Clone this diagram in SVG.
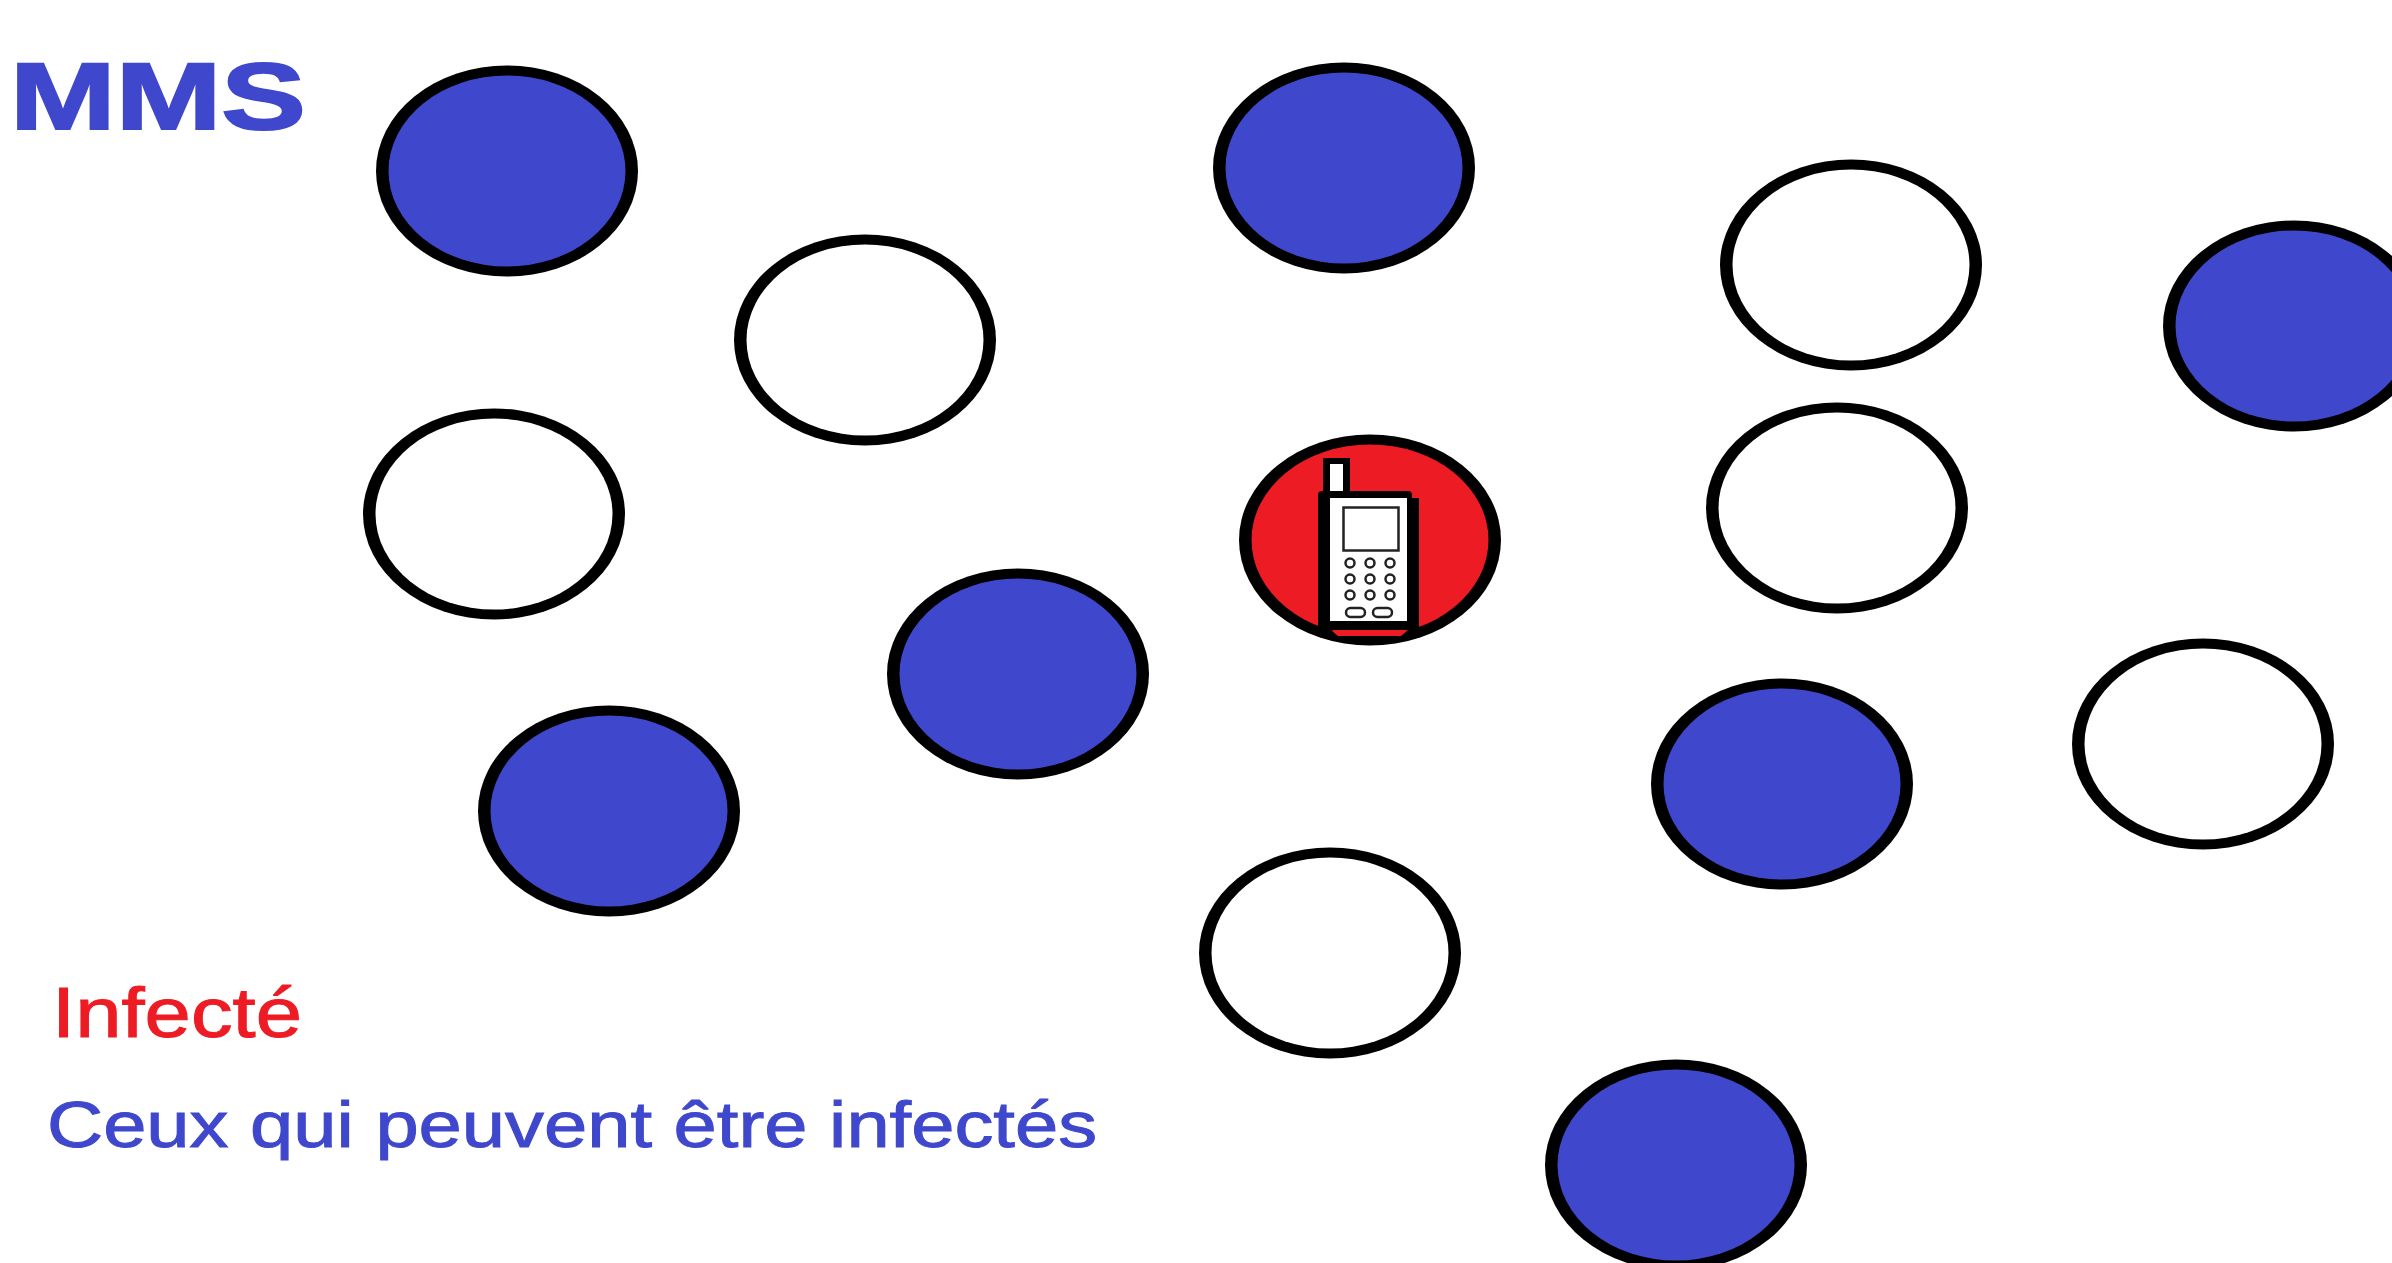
<svg xmlns="http://www.w3.org/2000/svg" width="2392" height="1263" viewBox="0 0 2392 1263">
<style>
.o{fill:#000}
.b{fill:#3F48CC}
.w{fill:#fff}
.r{fill:#ED1C24}
.t{font-family:"Liberation Sans",Arial,sans-serif}
.k{fill:#fff;stroke:#222;stroke-width:2.500}
</style>
<defs>
<ellipse id="eo" class="o" rx="131" ry="105.500"/>
<ellipse id="ei" rx="118.500" ry="95.500"/>
</defs>
<rect width="2392" height="1263" fill="#fff"/>
<g id="label-mms"><text class="t" x="10" y="129" font-size="94" font-weight="700" fill="#3F48CC" stroke="#3F48CC" stroke-width="2" textLength="296" lengthAdjust="spacingAndGlyphs">MMS</text></g>
<g id="node-1"><use href="#eo" x="507" y="171"/><use href="#ei" class="b" x="507" y="171"/></g>
<g id="node-2"><use href="#eo" x="1344" y="168"/><use href="#ei" class="b" x="1344" y="168"/></g>
<g id="node-3"><use href="#eo" x="865" y="340"/><use href="#ei" class="w" x="865" y="340"/></g>
<g id="node-4"><use href="#eo" x="1851" y="265"/><use href="#ei" class="w" x="1851" y="265"/></g>
<g id="node-5"><use href="#eo" x="2294" y="326"/><use href="#ei" class="b" x="2294" y="326"/></g>
<g id="node-6"><use href="#eo" x="494" y="514"/><use href="#ei" class="w" x="494" y="514"/></g>
<g id="node-7"><use href="#eo" x="1837" y="508"/><use href="#ei" class="w" x="1837" y="508"/></g>
<g id="node-8"><use href="#eo" x="1018" y="674"/><use href="#ei" class="b" x="1018" y="674"/></g>
<g id="node-9"><use href="#eo" x="609" y="811"/><use href="#ei" class="b" x="609" y="811"/></g>
<g id="node-10"><use href="#eo" x="1782" y="784"/><use href="#ei" class="b" x="1782" y="784"/></g>
<g id="node-11"><use href="#eo" x="2203" y="744"/><use href="#ei" class="w" x="2203" y="744"/></g>
<g id="node-12"><use href="#eo" x="1330" y="953"/><use href="#ei" class="w" x="1330" y="953"/></g>
<g id="node-13"><use href="#eo" x="1676" y="1165"/><use href="#ei" class="b" x="1676" y="1165"/></g>
<g id="node-infected">
<use href="#eo" x="1370" y="540"/><use href="#ei" class="r" x="1370" y="540"/>
<rect x="1323" y="458" width="27" height="40" fill="#000"/>
<rect x="1330" y="464" width="13" height="27" fill="#fff"/>
<path d="M1318 495q0-4 4-4h86q4 0 4 4v3h7V630H1318Z" fill="#000"/>
<path d="M1332 631H1407L1401 636H1338Z" fill="#ED1C24"/>
<rect x="1330" y="498" width="77" height="123" fill="#fff"/>
<rect x="1343.500" y="507.500" width="55" height="43" fill="#fff" stroke="#222" stroke-width="2.500"/>
<g class="k">
<circle cx="1350" cy="563" r="4.500"/><circle cx="1370" cy="563" r="4.500"/><circle cx="1390" cy="563" r="4.500"/>
<circle cx="1350" cy="579" r="4.500"/><circle cx="1370" cy="579" r="4.500"/><circle cx="1390" cy="579" r="4.500"/>
<circle cx="1350" cy="595" r="4.500"/><circle cx="1370" cy="595" r="4.500"/><circle cx="1390" cy="595" r="4.500"/>
<rect x="1346" y="608" width="19" height="9" rx="4.500"/>
<rect x="1373" y="608" width="19" height="9" rx="4.500"/>
</g>
</g>
<g id="legend">
<text class="t" x="52" y="1037" font-size="70" fill="#ED1C24" stroke="#ED1C24" stroke-width="1" textLength="250" lengthAdjust="spacingAndGlyphs">Infecté</text>
<text class="t" x="47" y="1147" font-size="65" fill="#3F48CC" stroke="#3F48CC" stroke-width="1" textLength="1050" lengthAdjust="spacingAndGlyphs">Ceux qui peuvent être infectés</text>
</g>
</svg>
